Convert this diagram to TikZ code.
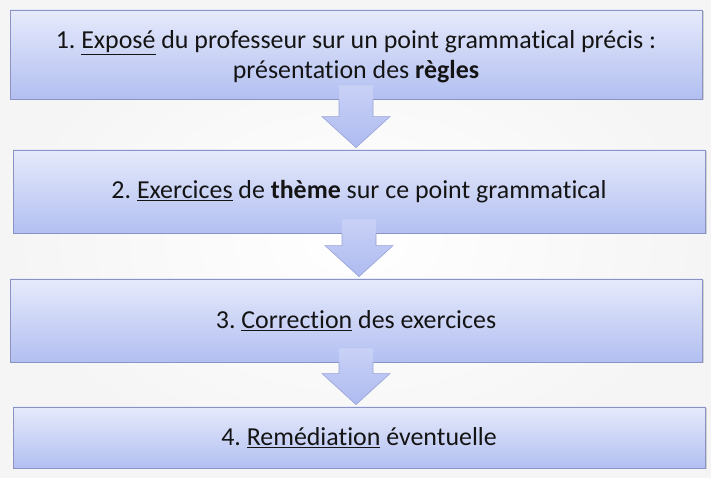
\documentclass[tikz,border=0pt]{standalone}
\usepackage{fontspec}
\setmainfont{Carlito}[Ligatures=NoCommon]
\usetikzlibrary{shadows,calc}

\definecolor{boxtop}{HTML}{E6EAFB}
\definecolor{boxbot}{HTML}{B2BFF1}
\definecolor{boxline}{HTML}{8A93C4}
\definecolor{arrowtop}{HTML}{C9D1F6}
\definecolor{arrowbot}{HTML}{AEBBF0}
\definecolor{arrowline}{HTML}{98A3D6}
\definecolor{steptext}{HTML}{141414}

\tikzset{
  stepbox/.style={draw=boxline, line width=0.8bp, top color=boxtop, bottom color=boxbot,
    minimum width=692bp, inner sep=0pt, align=center, text=steptext,
    font=\fontsize{26}{29.5}\selectfont\frenchspacing,
    drop shadow={shadow xshift=1.5bp, shadow yshift=-1.5bp, opacity=0.3}},
  steparrow/.style={top color=arrowtop, bottom color=arrowbot},
  stepline/.style={draw=arrowline, line width=0.6bp, line join=miter},
}

\begin{document}
\begin{tikzpicture}[x=1bp,y=1bp]
%%
\shade [inner color=white, outer color=gray!8] (0,0) rectangle (711,478);
\useasboundingbox (0,0) rectangle (711,478);
  \node (box_1) at (356bp,423.5bp) [stepbox, minimum height=89bp, text depth=0pt] {1. \underline{Exposé} du professeur sur un point grammatical précis :\\présentation des \textbf{règles}};
  \node (box_2) at (359bp,286.5bp) [stepbox, minimum height=83bp] {2. \underline{Exercices} de \textbf{thème} sur ce point grammatical};
  \node (box_3) at (356bp,157.5bp) [stepbox, minimum height=83bp] {3. \underline{Correction} des exercices};
  \node (box_4) at (359bp,40.5bp) [stepbox, minimum height=61bp] {4. \underline{Remédiation} éventuelle};
  \foreach \a/\b in {box_1/box_2, box_2/box_3, box_3/box_4} {
    \shade [steparrow] let \p1=(\a.south), \p2=(\b.north) in
      (\x1-17bp,\y1+14bp) -- (\x1-17bp,\y2+33bp) -- (\x1-34bp,\y2+33bp) -- (\x1,\y2+2bp)
      -- (\x1+34bp,\y2+33bp) -- (\x1+17bp,\y2+33bp) -- (\x1+17bp,\y1+14bp) -- cycle;
    \draw [stepline] let \p1=(\a.south), \p2=(\b.north) in
      (\x1-17bp,\y1) -- (\x1-17bp,\y2+33bp) -- (\x1-34bp,\y2+33bp) -- (\x1,\y2+2bp)
      -- (\x1+34bp,\y2+33bp) -- (\x1+17bp,\y2+33bp) -- (\x1+17bp,\y1);
  }
%
\end{tikzpicture}
\end{document}
